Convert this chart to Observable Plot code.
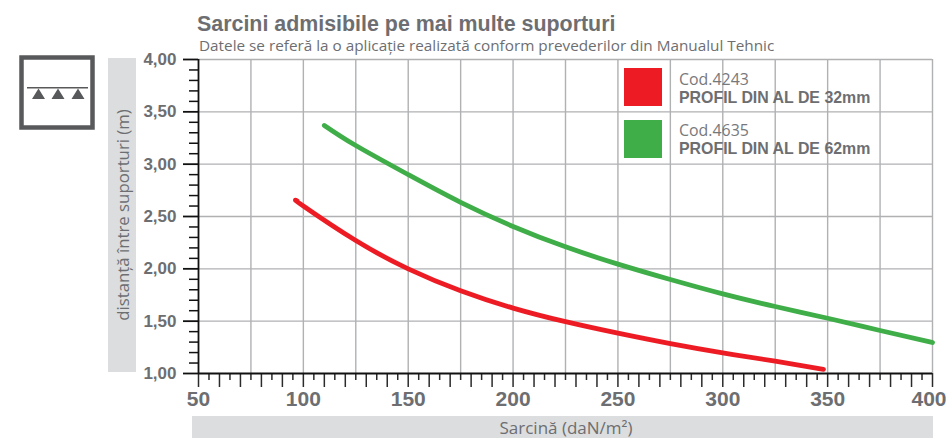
<!DOCTYPE html>
<html>
<head>
<meta charset="utf-8">
<script src="https://cdn.jsdelivr.net/npm/d3@7"></script>
<script src="https://cdn.jsdelivr.net/npm/@observablehq/plot@0.6"></script>
<style>
html,body{margin:0;padding:0;background:#fff;overflow:hidden}
#page{position:relative;width:947px;height:438px;overflow:hidden;font-family:"Liberation Sans",sans-serif}
#page>*{position:absolute}
.band{background:#dcddde}
.t{white-space:nowrap;color:#6d6e71}
.leg1{font:15.9px/16px "Open Sans",sans-serif;color:#77787b}
.leg2{font:bold 15.9px/16px "Liberation Sans",sans-serif;color:#6d6e71}
</style>
</head>
<body>
<div id="page"></div>
<script>
const redLoad = [97,100,125,150,175,200,225,250,275,300,325,348];
const redSpan = [2.65,2.60,2.27,2.00,1.79,1.625,1.495,1.385,1.285,1.197,1.118,1.04];
const greenLoad = [110,125,150,175,200,225,250,275,300,325,350,375,400];
const greenSpan = [3.37,3.178,2.90,2.635,2.405,2.21,2.045,1.898,1.761,1.64,1.528,1.411,1.296];
const gridX = [75,100,125,150,175,200,225,250,275,300,325,350,375,400];
const gridY = [1.5,2,2.5,3,3.5,4];
const labelsX = [50,100,150,200,250,300,350];
const lastLabelX = [400];
const longX = [50,60,70,80,90,100,110,120,130,140,150,160,170,180,190,200,210,220,230,240,250,260,270,280,290,300,310,320,330,340,350,360,370,380,390,400];
const shortX = [55,65,75,85,95,105,115,125,135,145,155,165,175,185,195,205,215,225,235,245,255,265,275,285,295,305,315,325,335,345,355,365,375,385,395];
const labelsY = [1,1.5,2,2.5,3,3.5,4];
const minorY = [1.1,1.2,1.3,1.4,1.6,1.7,1.8,1.9,2.1,2.2,2.3,2.4,2.6,2.7,2.8,2.9,3.1,3.2,3.3,3.4,3.6,3.7,3.8,3.9];
const fmtY = d => d.toFixed(2).replace(".", ",");
const red = redLoad.map((x,i)=>({x,y:redSpan[i]}));
const green = greenLoad.map((x,i)=>({x,y:greenSpan[i]}));

const page = document.getElementById("page");
function add(html){page.insertAdjacentHTML("beforeend",html);}
add(`<div class="band" style="left:108px;top:58px;width:27.5px;height:314px"></div>`);
add(`<div class="band" style="left:191.5px;top:416px;width:741px;height:22px"></div>`);

const tickStyle = {stroke:"#2b2b2b",strokeWidth:1.5,strokeOpacity:1,label:null,tickFormat:()=>""};
const xLabelStyle = {x:d=>d,frameAnchor:"bottom",lineAnchor:"middle",dy:26,fill:"#6d6e71",fontSize:21,fontWeight:"bold",fontFamily:"Liberation Sans"};
const chart = Plot.plot({
  width:947,height:438,
  marginLeft:198,marginRight:15,marginTop:59,marginBottom:65,
  style:{background:"transparent",position:"absolute",left:"0",top:"0",overflow:"visible"},
  x:{domain:[50,400],axis:null},
  y:{domain:[1,4],axis:null},
  marks:[
    Plot.ruleX(gridX,{stroke:"#b0b1b3",strokeWidth:1.4}),
    Plot.ruleY(gridY,{stroke:"#b0b1b3",strokeWidth:1.4}),
    Plot.axisX({...tickStyle,ticks:shortX,tickSize:7}),
    Plot.axisX({...tickStyle,ticks:longX,tickSize:14}),
    Plot.text(labelsX,xLabelStyle),
    Plot.text(lastLabelX,{...xLabelStyle,dx:-3.5}),
    Plot.axisY({...tickStyle,ticks:minorY,tickSize:9,stroke:"#111"}),
    Plot.axisY({ticks:labelsY,tickSize:15,tickPadding:7,tickFormat:fmtY,stroke:"#111",strokeWidth:1.8,strokeOpacity:1,
      fill:"#6d6e71",fontSize:17,fontWeight:"bold",fontFamily:"Liberation Sans",label:null}),
    Plot.ruleX([50],{stroke:"#111",strokeWidth:1.8}),
    Plot.ruleY([1],{stroke:"#111",strokeWidth:1.8}),
    Plot.line(green,{x:"x",y:"y",stroke:"#3fae49",strokeWidth:4.8,curve:"natural",strokeLinecap:"round"}),
    Plot.line(red,{x:"x",y:"y",stroke:"#ed1c24",strokeWidth:4.8,curve:"natural",strokeLinecap:"round"})
  ]
});
page.appendChild(chart);

add(`<div class="t" style="left:197px;top:11.500px;font:bold 21.4px/24px 'Liberation Sans',sans-serif">Sarcini admisibile pe mai multe suporturi</div>`);
add(`<div class="t" style="left:199px;top:35px;font:15.3px/20px 'Open Sans',sans-serif">Datele se referă la o aplicație realizată conform prevederilor din Manualul Tehnic</div>`);
add(`<div class="t" style="left:122px;top:215px;font:16.8px 'Open Sans',sans-serif;transform:translate(-50%,-50%) rotate(-90deg)">distanță între suporturi (m)</div>`);
add(`<div class="t" style="left:566px;top:427px;font:17px 'Open Sans',sans-serif;transform:translate(-50%,-50%)">Sarcină (daN/m²)</div>`);

add(`<div style="left:623.5px;top:68px;width:38px;height:38px;background:#ed1c24"></div>`);
add(`<div style="left:623.5px;top:120px;width:38px;height:38px;background:#3fae49"></div>`);
add(`<div class="t leg1" style="left:679px;top:71px">Cod.4243</div>`);
add(`<div class="t leg2" style="left:679px;top:90px">PROFIL DIN AL DE 32mm</div>`);
add(`<div class="t leg1" style="left:679px;top:122px">Cod.4635</div>`);
add(`<div class="t leg2" style="left:679px;top:140.500px">PROFIL DIN AL DE 62mm</div>`);

add(`<svg style="left:0;top:0" width="110" height="140" viewBox="0 0 110 140">
<rect x="21.5" y="57.5" width="71" height="70" fill="#fff" stroke="#58595b" stroke-width="4.5"/>
<line x1="27" y1="87.7" x2="88" y2="87.7" stroke="#58595b" stroke-width="1.6"/>
<path d="M38.5 88.500L45 99H32ZM58 88.500L64.5 99H51.5ZM78 88.500L84.500 99H71.500Z" fill="#58595b"/>
</svg>`);
</script>
</body>
</html>
